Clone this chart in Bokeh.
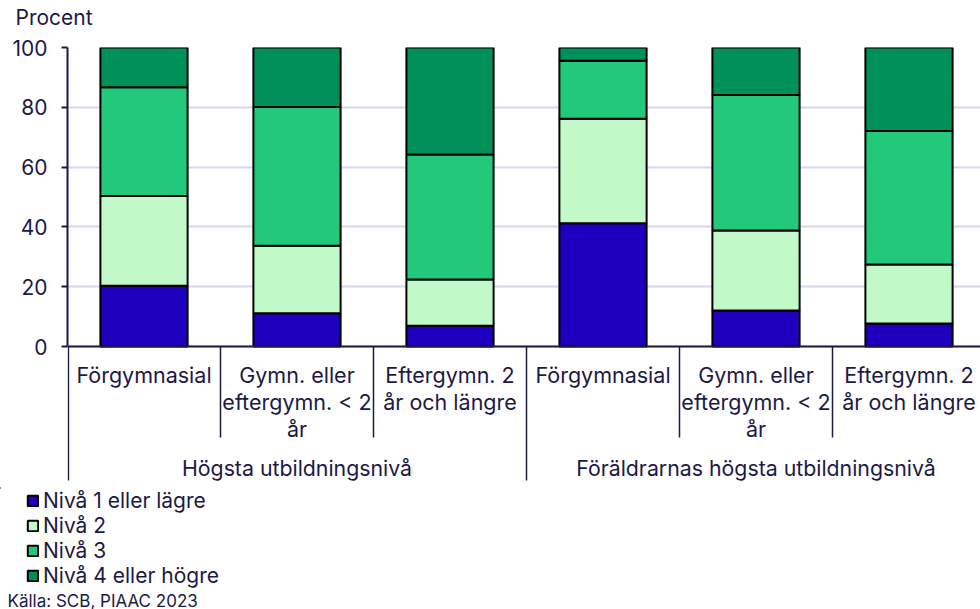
from bokeh.plotting import figure
from bokeh.layouts import column
from bokeh.models import (FactorRange, Range1d, ColumnDataSource, Legend, LegendItem,
                          Label, Span)
from bokeh.embed import file_html
from bokeh.resources import INLINE

# ---- data ----
groups = ["Högsta utbildningsnivå", "Föräldrarnas högsta utbildningsnivå"]
categories = ["Förgymnasial", "Gymn. eller eftergymn. < 2 år", "Eftergymn. 2 år och längre"]
category_labels = ["Förgymnasial", "Gymn. eller\neftergymn. < 2\når", "Eftergymn. 2\når och längre"]
levels = ["Nivå 1 eller lägre", "Nivå 2", "Nivå 3", "Nivå 4 eller högre"]
niva1 = [20.3, 11.1, 6.9, 41.2, 12.0, 7.7]
niva2 = [30.0, 22.6, 15.5, 35.0, 26.8, 19.7]
niva3 = [36.4, 46.4, 41.8, 19.4, 45.3, 44.7]
niva4 = [13.3, 19.9, 35.8, 4.4, 15.9, 27.9]
y_ticks = [0, 20, 40, 60, 80, 100]
y_title = "Procent"
source_text = "Källa: SCB, PIAAC 2023"

# ---- style ----
colors = ["#1e00be", "#c1f9c9", "#22c97b", "#00905a"]
NAVY = "#1c1946"
FONT = "Inter"
GRID = "#d6d6f2"

# ---- layout constants (page pixels) ----
TOP_H = 30          # strip holding the y title
FRAME_L = 67        # y axis position
FRAME_T = 47        # y = 100
ZERO_Y = 346        # y = 0
MAIN_B = 487        # bottom of main figure
MAIN_W = 985
PAGE_W, PAGE_H = 980, 609
ppu = (ZERO_Y - FRAME_T) / 100.0

def ys(page_y):
    return (ZERO_Y - page_y) / ppu

def strip(w, h):
    f = figure(width=w, height=h, x_range=Range1d(0, w), y_range=Range1d(h, 0),
               output_backend="svg", toolbar_location=None, frame_align=False,
               min_border_left=0, min_border_right=0, min_border_top=0, min_border_bottom=0)
    f.axis.visible = False
    f.grid.visible = False
    f.outline_line_color = None
    return f

# ---- title strip ----
pt = strip(PAGE_W, TOP_H)
pt.add_layout(Label(x=15, y=17, text=y_title, text_align="left", text_baseline="middle",
                    text_font=FONT, text_font_size="21px", text_color=NAVY))

# ---- main chart ----
factors = [(g, c) for g in groups for c in categories]
src = ColumnDataSource(dict(x=factors, n1=niva1, n2=niva2, n3=niva3, n4=niva4))

p = figure(x_range=FactorRange(*factors, factor_padding=0, group_padding=0, range_padding=0),
           y_range=Range1d(ys(MAIN_B), 100), width=MAIN_W, height=MAIN_B - TOP_H,
           output_backend="svg", toolbar_location=None, frame_align=False,
           min_border_left=FRAME_L, min_border_right=0,
           min_border_top=FRAME_T - TOP_H, min_border_bottom=0)
p.outline_line_color = None
p.xaxis.visible = False
p.xgrid.visible = False
p.ygrid.ticker = y_ticks
p.ygrid.grid_line_color = GRID
p.ygrid.grid_line_width = 2

rs = p.vbar_stack(["n1", "n2", "n3", "n4"], x="x", width=0.57, color=colors,
                  line_color="black", line_width=2, source=src)

ya = p.yaxis[0]
ya.ticker = y_ticks
ya.bounds = (0, 100)
ya.axis_line_color = NAVY
ya.axis_line_width = 2
ya.major_tick_line_color = NAVY
ya.major_tick_line_width = 2
ya.major_tick_out = 6
ya.major_tick_in = 0
ya.minor_tick_line_color = None
ya.major_label_standoff = 14
ya.major_label_text_font = FONT
ya.major_label_text_font_size = "21px"
ya.major_label_text_color = NAVY

p.add_layout(Span(location=0, dimension="width", line_color=NAVY, line_width=2))

# separators between categories (long ones between groups)
n = len(factors)
sep_x, sep_y1 = [], []
for i in range(n + 1):
    sep_x.append(i + (0.006 if i == 0 else 0))
    sep_y1.append(ys(480) if i % len(categories) == 0 else ys(437))
p.segment(x0=sep_x, y0=[0] * len(sep_x), x1=sep_x, y1=sep_y1, line_color=NAVY, line_width=1.5)

for i in range(n):
    p.add_layout(Label(x=i + 0.5, y=ys(361), text=category_labels[i % len(categories)],
                       text_align="center", text_baseline="top", text_font=FONT,
                       text_font_size="21.5px", text_color=NAVY, text_line_height=1.045))
for gi, g in enumerate(groups):
    p.add_layout(Label(x=gi * len(categories) + len(categories) / 2, y=ys(467), text=g,
                       text_align="center", text_baseline="middle", text_font=FONT,
                       text_font_size="21.3px", text_color=NAVY))

# ---- legend / source strip ----
BOT_H = PAGE_H - MAIN_B
pb = strip(PAGE_W, BOT_H)
legend_rs = [pb.vbar(x=[-100], top=[0], bottom=[0], width=1, fill_color=c,
                     line_color="black", line_width=2) for c in colors]
legend = Legend(items=[LegendItem(label=l, renderers=[r]) for l, r in zip(levels, legend_rs)],
                location=(26, BOT_H - (588 - MAIN_B)), orientation="vertical",
                background_fill_alpha=0, border_line_alpha=0, padding=0, margin=0,
                spacing=0, glyph_width=13, glyph_height=13, label_standoff=4,
                label_text_font=FONT, label_text_font_size="21px",
                label_text_color=NAVY)
pb.add_layout(legend, "center")
pb.add_layout(Label(x=7, y=600 - MAIN_B, text=source_text, text_align="left",
                    text_baseline="middle", text_font=FONT, text_font_size="17px",
                    text_color=NAVY))

layout = column(pt, p, pb, spacing=0)
open("out.html", "w").write(file_html(layout, INLINE))
